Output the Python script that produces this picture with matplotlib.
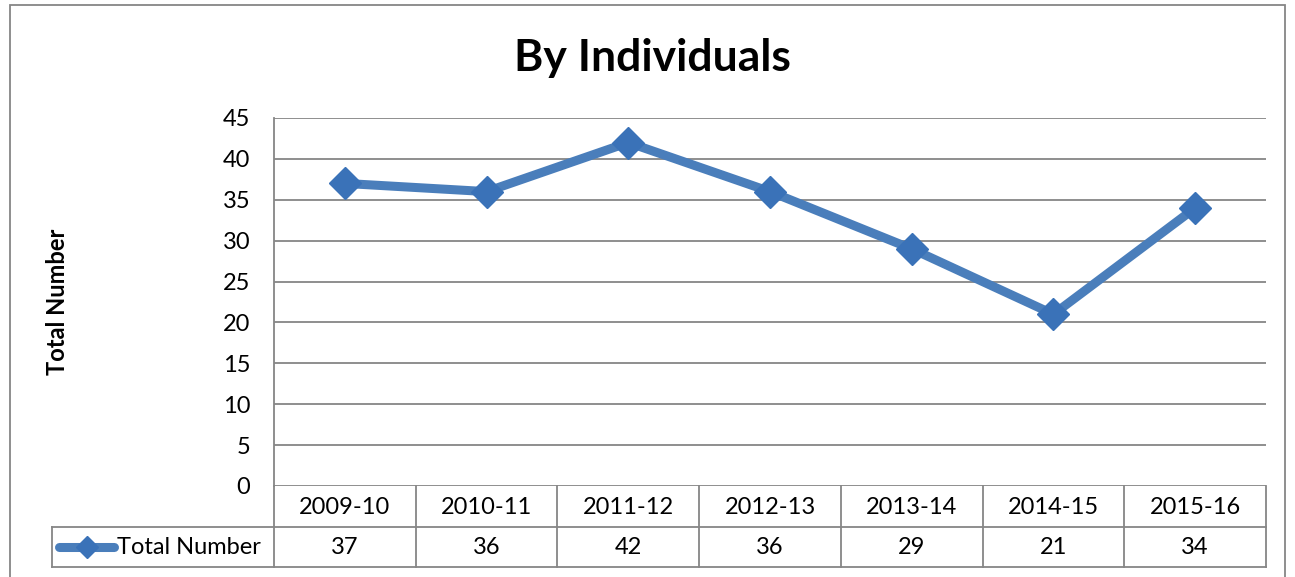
import matplotlib
matplotlib.use("Agg")
import matplotlib.pyplot as plt
from matplotlib.lines import Line2D
from matplotlib.patches import Rectangle

categories = ["2009-10", "2010-11", "2011-12", "2012-13", "2013-14", "2014-15", "2015-16"]
values = [37, 36, 42, 36, 29, 21, 34]
series_name = "Total Number"
title = "By Individuals"
ylabel = "Total Number"
yticks = [0, 5, 10, 15, 20, 25, 30, 35, 40, 45]

plt.rcParams['font.family'] = ['Lato', 'DejaVu Sans']
FS = 17

W, H = 1295, 577
fig = plt.figure(figsize=(W / 100, H / 100), dpi=100)

def fx(px):
    return px / W

def fy(py):
    return 1 - py / H

L, R, T, B = 274, 1266, 118, 486
ax = fig.add_axes([fx(L), fy(B), fx(R) - fx(L), fy(T) - fy(B)])

grid_col = "#868686"
line_col = "#4A7EBB"
mark_col = "#3A72B8"

n = len(categories)
xs = list(range(n))
ax.set_xlim(-0.5, n - 0.5)
ax.set_ylim(0, 45)
ax.set_yticks(yticks)
ax.set_yticklabels([str(t) for t in yticks], fontsize=FS)
ax.tick_params(axis='y', length=0, pad=17)
ax.set_xticks([])
for y in yticks:
    ax.axhline(y, color=grid_col, lw=1.3, zorder=1)
for s in ["top", "right", "bottom"]:
    ax.spines[s].set_visible(False)
ax.spines["left"].set_color(grid_col)
ax.spines["left"].set_linewidth(1.3)

ax.plot(xs, values, color=line_col, lw=6.5, zorder=3, solid_capstyle='round',
        marker='D', markersize=16, markerfacecolor=mark_col, markeredgecolor=mark_col)

# chart title and y label
fig.text(fx(652), fy(58), title, ha='center', va='center', fontsize=32, fontweight='bold')
fig.text(fx(58), fy(302), ylabel, ha='center', va='center', rotation=90,
         fontsize=FS, fontweight='bold')

# outer chart border
fig.add_artist(Rectangle((fx(10), fy(600)), fx(1285) - fx(10), fy(5) - fy(600),
                         transform=fig.transFigure, fill=False, edgecolor=grid_col, lw=1.3))

# data table
r1_top, r1_bot, r2_bot = B, 527, 567
leg_left = 52
colw = (R - L) / n

def hline(x0, x1, y):
    fig.add_artist(Line2D([fx(x0), fx(x1)], [fy(y), fy(y)], transform=fig.transFigure,
                          color=grid_col, lw=1.3))

def vline(x, y0, y1):
    fig.add_artist(Line2D([fx(x), fx(x)], [fy(y0), fy(y1)], transform=fig.transFigure,
                          color=grid_col, lw=1.3))

hline(leg_left, R, r1_bot)
hline(leg_left, R, r2_bot)
vline(leg_left, r1_bot, r2_bot)
for i in range(n + 1):
    vline(L + i * colw, r1_top, r2_bot)

for i, (c, v) in enumerate(zip(categories, values)):
    cx = L + (i + 0.5) * colw
    fig.text(fx(cx), fy((r1_top + r1_bot) / 2 + 1), c, ha='center', va='center', fontsize=FS)
    fig.text(fx(cx), fy((r1_bot + r2_bot) / 2 + 1), str(v), ha='center', va='center', fontsize=FS)

# legend key in table
ky = (r1_bot + r2_bot) / 2
fig.add_artist(Line2D([fx(59), fx(114)], [fy(ky), fy(ky)], transform=fig.transFigure,
                      color=line_col, lw=6.5, solid_capstyle='round'))
fig.add_artist(Line2D([fx(87)], [fy(ky)], transform=fig.transFigure, marker='D',
                      markersize=11, color=mark_col, linestyle='none'))
fig.text(fx(117), fy(ky + 1), series_name, ha='left', va='center', fontsize=FS)

fig.savefig("out.png", dpi=100)
